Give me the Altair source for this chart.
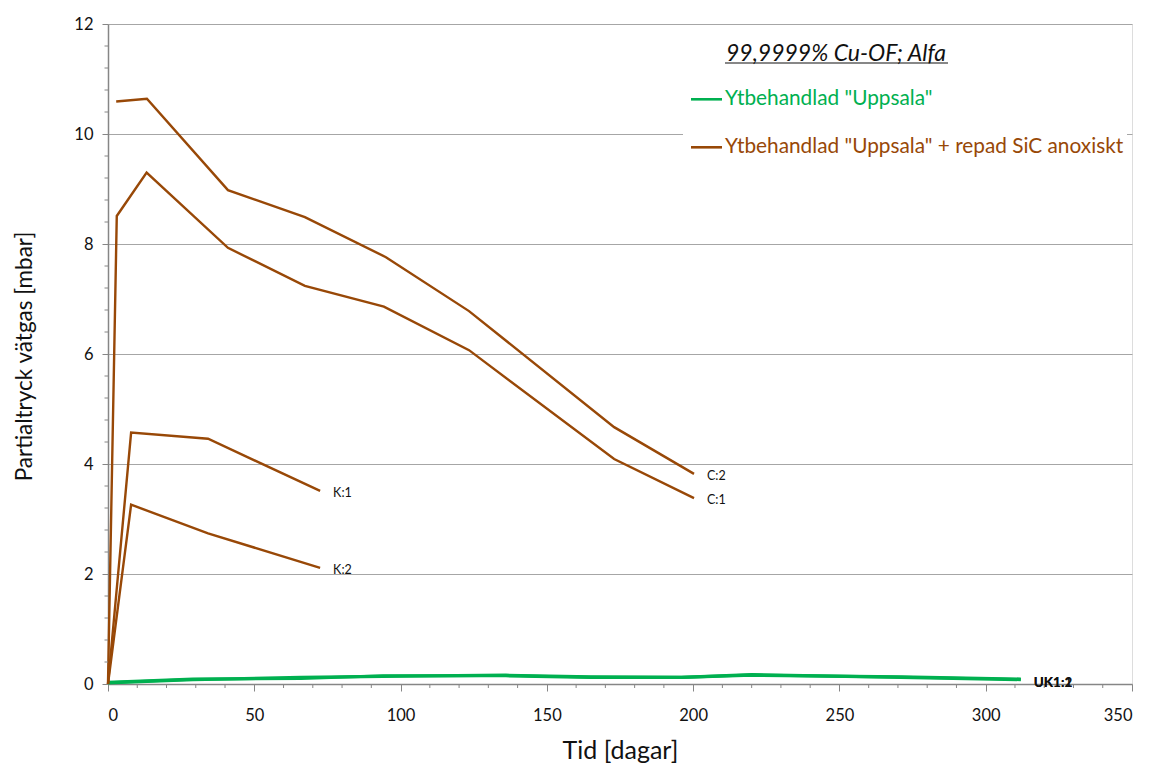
import altair as alt
import pandas as pd

# ---------------- data ----------------
c2_days = [2.8, 13.3, 41.0, 67.3, 95.0, 123.4, 173.0, 200.3]
c2_vals = [10.59, 10.64, 8.98, 8.49, 7.76, 6.78, 4.67, 3.82]

c1_days = [0, 3.0, 13.2, 41.0, 67.3, 94.3, 123.4, 173.0, 200.3]
c1_vals = [0, 8.51, 9.30, 7.93, 7.24, 6.86, 6.07, 4.09, 3.38]

k1_days = [0, 7.9, 34.2, 72.5]
k1_vals = [0, 4.57, 4.46, 3.51]

k2_days = [0, 7.9, 34.2, 72.5]
k2_vals = [0, 3.26, 2.74, 2.11]

uk_days = [0, 29, 66, 94, 136, 165, 196, 220, 271, 312]
uk1_vals = [0.03, 0.09, 0.10, 0.15, 0.15, 0.12, 0.12, 0.17, 0.12, 0.08]
uk2_vals = [0.02, 0.08, 0.12, 0.14, 0.16, 0.13, 0.12, 0.16, 0.13, 0.09]

series_names = ["UK1:1", "UK1:2", "K:1", "K:2", "C:1", "C:2"]
groups = ["Ytbehandlad \"Uppsala\"", "Ytbehandlad \"Uppsala\"",
          "Ytbehandlad \"Uppsala\" + repad SiC anoxiskt",
          "Ytbehandlad \"Uppsala\" + repad SiC anoxiskt",
          "Ytbehandlad \"Uppsala\" + repad SiC anoxiskt",
          "Ytbehandlad \"Uppsala\" + repad SiC anoxiskt"]
legend_title = "99,9999% Cu-OF; Alfa"
legend_labels = ["Ytbehandlad \"Uppsala\"", "Ytbehandlad \"Uppsala\" + repad SiC anoxiskt"]
colors = ["#00B050", "#984807"]

x_major = [0, 50, 100, 150, 200, 250, 300, 350]
x_minor = [10, 20, 30, 40, 60, 70, 80, 90, 110, 120, 130, 140, 160, 170, 180, 190,
           210, 220, 230, 240, 260, 270, 280, 290, 310, 320, 330, 340]
y_major = [0, 2, 4, 6, 8, 10, 12]
y_minor = [0.4, 0.8, 1.2, 1.6, 2.4, 2.8, 3.2, 3.6, 4.4, 4.8, 5.2, 5.6, 6.4, 6.8, 7.2, 7.6,
           8.4, 8.8, 9.2, 9.6, 10.4, 10.8, 11.2, 11.6]

# ---------------- tables ----------------
all_days = [uk_days, uk_days, k1_days, k2_days, c1_days, c2_days]
all_vals = [uk1_vals, uk2_vals, k1_vals, k2_vals, c1_vals, c2_vals]
rows = []
for name, grp, ds, vs in zip(series_names, groups, all_days, all_vals):
    for i, (d, v) in enumerate(zip(ds, vs)):
        rows.append({"series": name, "group": grp, "day": d, "val": v, "i": i})
df = pd.DataFrame(rows)

lab = pd.DataFrame([{"series": n, "day": ds[-1], "val": vs[-1]}
                    for n, ds, vs in zip(series_names, all_days, all_vals)])
lab_small = lab[~lab.series.str.startswith("UK")]
lab_uk = lab[lab.series.str.startswith("UK")]

FONT = "Lato"
W, H = 1024, 660

xs = alt.Scale(domain=[0, 350], nice=False, zero=False)
ys = alt.Scale(domain=[0, 12], nice=False)

x_axis = alt.Axis(values=x_major, grid=False, title="Tid [dagar]", labelFontSize=16.5,
                  format="d",
                  titleFontSize=25, titleFontWeight="normal", titleColor="#111",
                  titleX=W / 2, titleY=66, titleBaseline="middle",
                  tickSize=7, tickColor="#868686", domainColor="#868686", domainWidth=1.5,
                  labelPadding=16, labelColor="#111", labelFont=FONT, titleFont=FONT)
y_axis = alt.Axis(values=y_major, grid=True, gridColor="#A6A6A6", gridWidth=1,
                  format="d",
                  title="Partialtryck vätgas [mbar]", labelFontSize=16.5, titleFontSize=22.5,
                  titleFontWeight="normal", titleColor="#111", titleX=-84, titleY=H / 2 + 2,
                  titleAngle=-90, titleBaseline="middle",
                  tickSize=6, tickColor="#868686", domainColor="#868686", domainWidth=1.5,
                  labelPadding=9, labelColor="#111", labelFont=FONT, titleFont=FONT)

color = alt.Color("group:N", scale=alt.Scale(domain=legend_labels, range=colors), legend=None)

base = alt.Chart(df)

lines_green = base.transform_filter(alt.datum.group == legend_labels[0]).mark_line(
    strokeWidth=3.2).encode(
    x=alt.X("day:Q", scale=xs, axis=x_axis),
    y=alt.Y("val:Q", scale=ys, axis=y_axis),
    color=color, detail="series:N", order="i:Q")

lines_brown = base.transform_filter(alt.datum.group == legend_labels[1]).mark_line(
    strokeWidth=2.4).encode(
    x=alt.X("day:Q", scale=xs),
    y=alt.Y("val:Q", scale=ys),
    color=color, detail="series:N", order="i:Q")

txt_small = alt.Chart(lab_small).mark_text(
    align="left", baseline="middle", dx=13, dy=2, fontSize=12.5, font=FONT, color="#111").encode(
    x=alt.X("day:Q", scale=xs), y=alt.Y("val:Q", scale=ys), text="series:N")

txt_uk = alt.Chart(lab_uk).mark_text(
    align="left", baseline="middle", dx=13, dy=3.5, fontSize=13.5, font=FONT,
    fontWeight="bold", color="#111").encode(
    x=alt.X("day:Q", scale=xs), y=alt.Y("val:Q", scale=ys), text="series:N")

minor_x = alt.Chart(pd.DataFrame({"t": x_minor})).mark_rule(color="#868686", strokeWidth=1).encode(
    x=alt.X("t:Q", scale=xs), y=alt.value(H), y2=alt.value(H + 4))
minor_y = alt.Chart(pd.DataFrame({"t": y_minor})).mark_rule(color="#868686", strokeWidth=1).encode(
    y=alt.Y("t:Q", scale=ys), x=alt.value(-3.5), x2=alt.value(0))

# ---------------- manual legend ----------------
one = pd.DataFrame({"k": [0]})
leg_bg = alt.Chart(one).mark_rect(color="white").encode(
    x=alt.value(575), x2=alt.value(1019), y=alt.value(6), y2=alt.value(141))
leg_title = alt.Chart(one).mark_text(
    align="center", baseline="middle", fontSize=23, fontStyle="italic", font=FONT,
    color="#111").encode(x=alt.value(728), y=alt.value(29.5), text=alt.value(legend_title))
leg_underline = alt.Chart(one).mark_rule(color="#111", strokeWidth=1.2).encode(
    x=alt.value(617), x2=alt.value(840), y=alt.value(39))
leg_items = []
for lbl, col, yy in zip(legend_labels, colors, [75.3, 123.3]):
    leg_items.append(alt.Chart(one).mark_rule(color=col, strokeWidth=2.6).encode(
        x=alt.value(583), x2=alt.value(614), y=alt.value(yy)))
    leg_items.append(alt.Chart(one).mark_text(
        align="left", baseline="middle", fontSize=20.8, font=FONT, color=col).encode(
        x=alt.value(617), y=alt.value(yy), text=alt.value(lbl)))

chart = alt.layer(
    lines_green, leg_bg, lines_brown, minor_x, minor_y, txt_small, txt_uk,
    leg_title, leg_underline, *leg_items
).properties(
    width=W, height=H,
    autosize=alt.AutoSizeParams(type="none"),
    padding={"left": 100, "top": 16, "right": 10, "bottom": 85},
).configure_view(stroke="#BFBFBF", strokeWidth=1).configure(background="white")

chart.save("out.html", embed_options={"renderer": "svg", "actions": False})
